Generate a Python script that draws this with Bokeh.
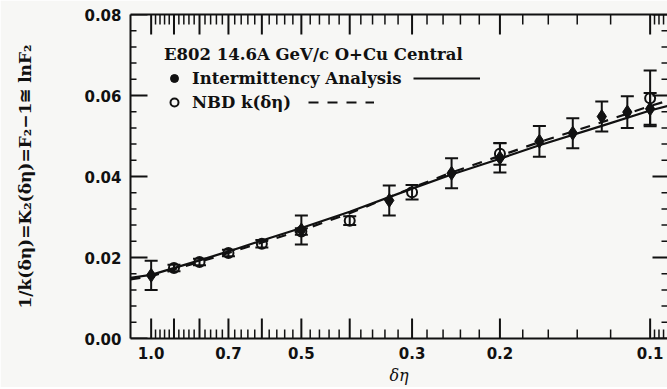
import math
from bokeh.plotting import figure
from bokeh.models import (Range1d, FixedTicker, LinearAxis, LogAxis, PrintfTickFormatter,
                          CustomJSTickFormatter, Whisker, TeeHead, ColumnDataSource, Legend,
                          LegendItem)
from bokeh.embed import file_html
from bokeh.resources import INLINE
from bokeh.core.properties import value

# ---- data ----
ia_deta = [1.0, 0.5, 0.3333, 0.25, 0.2, 0.1667, 0.1429, 0.125, 0.1111, 0.1]
ia_val = [0.0156, 0.0268, 0.0341, 0.0408, 0.0446, 0.0487, 0.0507, 0.0548, 0.0559, 0.0567]
ia_err = [0.0036, 0.0036, 0.0037, 0.0037, 0.0036, 0.0038, 0.0037, 0.0037, 0.0039, 0.0039]

nbd_deta = [0.9, 0.8, 0.7, 0.6, 0.5, 0.4, 0.3, 0.2, 0.1]
nbd_val = [0.0174, 0.0189, 0.0211, 0.0234, 0.0264, 0.0291, 0.0361, 0.0456, 0.0593]
nbd_err = [0.0008, 0.0008, 0.0008, 0.0009, 0.0008, 0.0011, 0.0018, 0.0027, 0.0069]

fit_deta = [1.10, 1.0, 0.8, 0.7, 0.6, 0.5, 0.4, 0.3, 0.25, 0.2, 0.1667, 0.125, 0.1, 0.0923]
ia_fit = [0.0150, 0.0157, 0.0193, 0.0215, 0.0242, 0.0273, 0.0313, 0.0370, 0.0405, 0.0444, 0.0477, 0.0525, 0.0563, 0.0574]
nbd_fit = [0.0146, 0.0154, 0.0189, 0.0211, 0.0237, 0.0267, 0.0309, 0.0372, 0.0410, 0.0451, 0.0485, 0.0534, 0.0574, 0.0587]

x_ticks = [1.0, 0.9, 0.8, 0.7, 0.6, 0.5, 0.4, 0.3, 0.2, 0.1]
x_unlabeled = [0.9, 0.8, 0.6, 0.4]
y_ticks = [0.0, 0.02, 0.04, 0.06, 0.08]

title_text = "E802 14.6A GeV/c O+Cu Central"
ia_label = "Intermittency Analysis"
nbd_label = "NBD k(δη)"
x_title = "δη"
y_title = "1/k(δη)=K₂(δη)=F₂−1≅ lnF₂"

BG = "#f7f7f5"
INK = "#111111"
SERIF = "DejaVu Serif"
SANS = "DejaVu Sans"

X0, X1 = 1.10, 0.0923
Y0, Y1 = 0.0, 0.08

x_minor = [round(0.98 - 0.02 * i, 3) for i in range(44)] + [0.098, 0.096, 0.094]
x_minor = [v for v in x_minor if v not in x_ticks]
y_minor = [round(0.004 * i, 3) for i in range(1, 20) if i % 5]

p = figure(frame_width=537, frame_height=324, x_axis_type="log",
           x_range=Range1d(X0, X1), y_range=Range1d(Y0, Y1),
           output_backend="svg", toolbar_location=None,
           min_border_left=130, min_border_top=14, min_border_right=0, min_border_bottom=0,
           background_fill_color=BG, border_fill_color=BG, outline_line_color=None)
p.xgrid.visible = False
p.ygrid.visible = False


def style(ax):
    ax.major_tick_in = 0
    ax.major_tick_out = 0
    ax.minor_tick_in = 0
    ax.minor_tick_out = 0
    ax.axis_line_width = 2
    ax.axis_line_color = INK
    ax.major_label_text_font = SANS
    ax.major_label_text_font_style = "bold"
    ax.major_label_text_font_size = "15px"
    ax.major_label_text_color = INK


xt = FixedTicker(ticks=x_ticks, minor_ticks=x_minor)
yt = FixedTicker(ticks=y_ticks, minor_ticks=y_minor)
blank = CustomJSTickFormatter(code="return ''")

xb = p.xaxis[0]
xb.ticker = xt
xb.formatter = PrintfTickFormatter(format="%.1f")
xb.major_label_overrides = {v: "" for v in x_unlabeled}
style(xb)
xb.major_label_standoff = 8
xb.axis_label = x_title
xb.axis_label_text_font = SERIF
xb.axis_label_text_font_style = "italic"
xb.axis_label_text_font_size = "16px"
xb.axis_label_standoff = 4
xb.axis_label_text_color = INK

yl = p.yaxis[0]
yl.ticker = yt
yl.formatter = PrintfTickFormatter(format="%.2f")
style(yl)
yl.major_label_standoff = 9
yl.axis_label = y_title
yl.axis_label_text_font = SERIF
yl.axis_label_text_font_style = "bold"
yl.axis_label_text_font_size = "17px"
yl.axis_label_standoff = 46
yl.axis_label_text_color = INK

xtop = LogAxis(ticker=xt, formatter=blank)
style(xtop)
xtop.major_label_standoff = 0
p.add_layout(xtop, "above")

yr = LinearAxis(ticker=yt, formatter=blank)
style(yr)
yr.axis_line_color = None
yr.major_label_standoff = 0
p.add_layout(yr, "right")

# inward tick marks on all four sides (screen-length rays from the frame edges)
tick_kw = dict(length_units="screen", line_color=INK)
p.ray(x=x_ticks, y=[Y0] * len(x_ticks), length=20, angle=math.pi / 2, line_width=2, **tick_kw)
p.ray(x=x_minor, y=[Y0] * len(x_minor), length=9, angle=math.pi / 2, line_width=1.5, **tick_kw)
p.ray(x=x_ticks, y=[Y1] * len(x_ticks), length=20, angle=-math.pi / 2, line_width=2, **tick_kw)
p.ray(x=x_minor, y=[Y1] * len(x_minor), length=10, angle=-math.pi / 2, line_width=1.5, **tick_kw)
p.ray(x=[X0] * len(y_ticks), y=y_ticks, length=17, angle=0, line_width=2, **tick_kw)
p.ray(x=[X0] * len(y_minor), y=y_minor, length=6, angle=0, line_width=1.5, **tick_kw)
p.ray(x=[X1] * len(y_ticks), y=y_ticks, length=15, angle=math.pi, line_width=2, **tick_kw)
p.ray(x=[X1] * len(y_minor), y=y_minor, length=6, angle=math.pi, line_width=1.5, **tick_kw)

# fit curves
ia_line = p.line(fit_deta, ia_fit, line_color=INK, line_width=2.2)
nbd_line = p.line(fit_deta, nbd_fit, line_color=INK, line_width=2.2, line_dash="10 9")

# error bars
ia_src = ColumnDataSource(dict(x=ia_deta, y=ia_val,
                               lo=[v - e for v, e in zip(ia_val, ia_err)],
                               hi=[v + e for v, e in zip(ia_val, ia_err)]))
nbd_src = ColumnDataSource(dict(x=nbd_deta, y=nbd_val,
                                lo=[v - e for v, e in zip(nbd_val, nbd_err)],
                                hi=[v + e for v, e in zip(nbd_val, nbd_err)]))
for src in (ia_src, nbd_src):
    p.add_layout(Whisker(source=src, base="x", lower="lo", upper="hi", dimension="height",
                         line_color=INK, line_width=2,
                         lower_head=TeeHead(size=13, line_width=2, line_color=INK),
                         upper_head=TeeHead(size=13, line_width=2, line_color=INK)))

# filled circles hidden under the diamonds: they give the key its round symbol
ia_key = p.scatter("x", "y", source=ia_src, marker="circle", size=7,
                   fill_color=INK, line_color=INK)
ia_pts = p.scatter("x", "y", source=ia_src, marker="diamond", size=14,
                   fill_color=INK, line_color=INK)
nbd_pts = p.scatter("x", "y", source=nbd_src, marker="circle", size=10, fill_color=None,
                    line_color=INK, line_width=2)

leg = Legend(items=[LegendItem(label=ia_label, renderers=[ia_key], index=0),
                    LegendItem(label=nbd_label, renderers=[nbd_pts], index=0)],
             location=(34, 226), title=title_text,
             title_text_font=SERIF, title_text_font_style="bold", title_text_font_size="16.5px",
             title_text_color=INK, title_standoff=4,
             label_text_font=SERIF, label_text_font_style="bold", label_text_font_size="16.5px",
             label_text_color=INK, label_standoff=8, label_height=20,
             glyph_width=20, glyph_height=20, spacing=4, padding=0, margin=0,
             background_fill_alpha=0, border_line_color=None)
p.add_layout(leg)

leg_solid = Legend(items=[LegendItem(label=value(" "), renderers=[ia_line])],
                   location=(283, 250), glyph_width=67, glyph_height=20, label_standoff=0,
                   padding=0, margin=0, background_fill_alpha=0, border_line_color=None)
leg_dash = Legend(items=[LegendItem(label=value(" "), renderers=[nbd_line])],
                  location=(178, 226), glyph_width=66, glyph_height=20, label_standoff=0,
                  padding=0, margin=0, background_fill_alpha=0, border_line_color=None)
p.add_layout(leg_solid)
p.add_layout(leg_dash)

html = file_html(p, INLINE)
html = html.replace("<body>", '<body style="background:%s">' % BG, 1)
open("out.html", "w").write(html)
